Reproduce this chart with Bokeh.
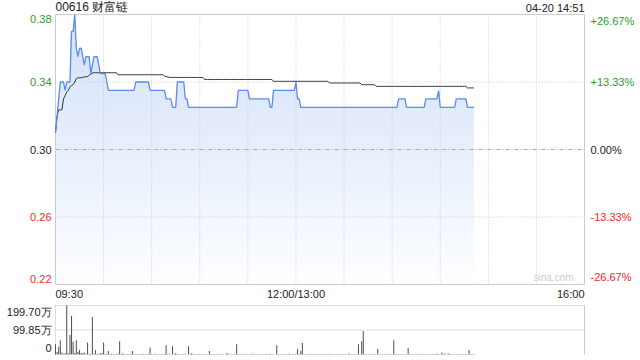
from bokeh.plotting import figure
from bokeh.models import Range1d
from bokeh.core.properties import value
from bokeh.embed import file_html
from bokeh.resources import INLINE

# ---------------- data ----------------
title_text = "00616 财富链"
stamp_text = "04-20 14:51"
prev_close = 0.30

# price per minute from 09:30 (trading minutes, lunch removed)
price = [
    0.31, 0.32, 0.33, 0.34, 0.34, 0.34, 0.335, 0.34, 0.34, 0.34,
    0.37, 0.37, 0.38, 0.36, 0.355, 0.36, 0.36, 0.355, 0.35, 0.355,
    0.355, 0.355, 0.345, 0.35, 0.355, 0.355, 0.355, 0.35, 0.345, 0.345,
    0.345, 0.345, 0.34, 0.335, 0.335, 0.335, 0.335, 0.335, 0.335, 0.335,
    0.335, 0.335, 0.335, 0.335, 0.335, 0.335, 0.335, 0.335, 0.335, 0.335,
    0.34, 0.34, 0.34, 0.34, 0.34, 0.34, 0.34, 0.34, 0.34, 0.335,
    0.335, 0.335, 0.335, 0.335, 0.335, 0.335, 0.335, 0.335, 0.335, 0.33,
    0.33, 0.33, 0.33, 0.325, 0.325, 0.325, 0.34, 0.34, 0.34, 0.34,
    0.34, 0.33, 0.33, 0.325, 0.325, 0.325, 0.325, 0.325, 0.325, 0.325,
    0.325, 0.325, 0.325, 0.325, 0.325, 0.325, 0.325, 0.325, 0.325, 0.325,
    0.325, 0.325, 0.325, 0.325, 0.325, 0.325, 0.325, 0.325, 0.325, 0.325,
    0.325, 0.325, 0.325, 0.325, 0.335, 0.335, 0.335, 0.335, 0.335, 0.335,
    0.335, 0.33, 0.33, 0.33, 0.33, 0.33, 0.33, 0.33, 0.33, 0.33,
    0.33, 0.33, 0.33, 0.33, 0.325, 0.325, 0.335, 0.335, 0.335, 0.335,
    0.335, 0.335, 0.335, 0.335, 0.335, 0.335, 0.335, 0.335, 0.335, 0.335,
    0.34, 0.33, 0.33, 0.325, 0.325, 0.325, 0.325, 0.325, 0.325, 0.325,
    0.325, 0.325, 0.325, 0.325, 0.325, 0.325, 0.325, 0.325, 0.325, 0.325,
    0.325, 0.325, 0.325, 0.325, 0.325, 0.325, 0.325, 0.325, 0.325, 0.325,
    0.325, 0.325, 0.325, 0.325, 0.325, 0.325, 0.325, 0.325, 0.325, 0.325,
    0.325, 0.325, 0.325, 0.325, 0.325, 0.325, 0.325, 0.325, 0.325, 0.325,
    0.325, 0.325, 0.325, 0.325, 0.325, 0.325, 0.325, 0.325, 0.325, 0.325,
    0.325, 0.325, 0.325, 0.325, 0.33, 0.33, 0.33, 0.33, 0.33, 0.325,
    0.325, 0.325, 0.325, 0.325, 0.325, 0.325, 0.325, 0.325, 0.325, 0.325,
    0.325, 0.33, 0.33, 0.33, 0.33, 0.33, 0.33, 0.33, 0.33, 0.335,
    0.325, 0.325, 0.325, 0.325, 0.325, 0.325, 0.325, 0.325, 0.325, 0.325,
    0.33, 0.33, 0.33, 0.33, 0.33, 0.33, 0.33, 0.325, 0.325, 0.325,
    0.325, 0.325,
]

avg_price = [
    0.31, 0.32, 0.3235, 0.3235, 0.3235, 0.33, 0.332, 0.334, 0.335, 0.337,
    0.338, 0.3385, 0.34, 0.342, 0.3425, 0.3425, 0.3425, 0.3427, 0.343, 0.3432,
    0.3432, 0.344, 0.3447, 0.3453, 0.3455, 0.3455, 0.3455, 0.3455, 0.3455, 0.3455,
    0.3455, 0.3455, 0.3455, 0.3455, 0.3455, 0.3455, 0.3455, 0.3455, 0.3455, 0.3443,
    0.3443, 0.3443, 0.3443, 0.3443, 0.3443, 0.3443, 0.3443, 0.3443, 0.3443, 0.3443,
    0.3443, 0.3443, 0.3443, 0.3443, 0.3443, 0.3443, 0.3443, 0.3443, 0.3443, 0.3443,
    0.3443, 0.3443, 0.3443, 0.3443, 0.3443, 0.3443, 0.3443, 0.3443, 0.3435, 0.3432,
    0.343, 0.3428, 0.3427, 0.3427, 0.3427, 0.3427, 0.3427, 0.3427, 0.3427, 0.3427,
    0.3427, 0.3427, 0.3427, 0.3427, 0.3427, 0.3427, 0.3427, 0.3427, 0.3427, 0.3427,
    0.3427, 0.3427, 0.3427, 0.3415, 0.3415, 0.3415, 0.3415, 0.3415, 0.3415, 0.3415,
    0.3415, 0.3415, 0.3415, 0.3415, 0.3415, 0.3415, 0.3415, 0.3415, 0.3415, 0.3415,
    0.3415, 0.3415, 0.3415, 0.3415, 0.3415, 0.3415, 0.3415, 0.3415, 0.3415, 0.3415,
    0.3415, 0.3415, 0.3415, 0.3415, 0.3415, 0.3415, 0.3415, 0.3415, 0.3415, 0.3415,
    0.3415, 0.3415, 0.3415, 0.3415, 0.3415, 0.3415, 0.3404, 0.3404, 0.3404, 0.3404,
    0.3404, 0.3404, 0.3404, 0.3404, 0.3404, 0.3404, 0.3404, 0.3404, 0.3404, 0.3404,
    0.3404, 0.3404, 0.3404, 0.3404, 0.3404, 0.3404, 0.3404, 0.3404, 0.3404, 0.3404,
    0.3404, 0.3404, 0.3404, 0.3404, 0.3404, 0.3404, 0.3404, 0.3404, 0.3404, 0.3404,
    0.3404, 0.3394, 0.3394, 0.3394, 0.3394, 0.3394, 0.3394, 0.3394, 0.3394, 0.3394,
    0.3394, 0.3394, 0.3394, 0.3394, 0.3394, 0.3394, 0.3394, 0.3394, 0.3394, 0.3394,
    0.3394, 0.3384, 0.3384, 0.3384, 0.3384, 0.3384, 0.3384, 0.3384, 0.3384, 0.3384,
    0.3374, 0.3374, 0.3374, 0.3374, 0.3374, 0.3374, 0.3374, 0.3374, 0.3374, 0.3374,
    0.3374, 0.3374, 0.3374, 0.3374, 0.3374, 0.3374, 0.3374, 0.3374, 0.3374, 0.3374,
    0.3374, 0.3374, 0.3374, 0.3374, 0.3374, 0.3374, 0.3374, 0.3374, 0.3374, 0.3374,
    0.3374, 0.3374, 0.3374, 0.3374, 0.3374, 0.3374, 0.3374, 0.3374, 0.3374, 0.3374,
    0.3374, 0.3374, 0.3374, 0.3374, 0.3374, 0.3374, 0.3374, 0.3374, 0.3374, 0.3374,
    0.3374, 0.3374, 0.3374, 0.3374, 0.3374, 0.3374, 0.3374, 0.3365, 0.3365, 0.3365,
    0.3365, 0.3365,
]

# volume per minute, in 万 shares
volume = [
    42, 10, 31, 58, 8, 3, 5, 199.7, 5, 79,
    157, 52, 6, 58, 10, 18, 6, 5, 8, 3,
    49, 3, 2, 153, 4, 18, 2, 3, 5, 6,
    49, 2, 3, 14, 2, 3, 2, 1, 2, 3,
    54, 2, 5, 2, 1, 2, 2, 3, 14, 2,
    1, 2, 2, 1, 3, 2, 1, 2, 2, 29,
    2, 1, 3, 2, 1, 2, 2, 1, 2, 38,
    2, 3, 1, 34, 2, 5, 2, 1, 2, 1,
    2, 3, 1, 34, 2, 5, 1, 2, 1, 2,
    2, 1, 2, 1, 2, 1, 14, 2, 1, 2,
    1, 2, 1, 2, 1, 2, 1, 6, 2, 1,
    2, 1, 2, 42, 2, 1, 2, 1, 2, 1,
    2, 1, 2, 3, 1, 2, 1, 2, 1, 2,
    1, 2, 1, 2, 3, 1, 2, 1, 38, 2,
    1, 2, 1, 2, 1, 2, 3, 1, 2, 1,
    3, 22, 2, 14, 47, 2, 1, 2, 1, 2,
    1, 2, 1, 2, 1, 2, 1, 2, 1, 2,
    1, 2, 1, 2, 1, 2, 1, 2, 1, 2,
    1, 2, 1, 5, 1, 2, 1, 2, 1, 42,
    2, 54, 96, 2, 1, 2, 1, 2, 1, 2,
    1, 22, 1, 2, 1, 2, 1, 2, 1, 2,
    1, 58, 2, 1, 2, 1, 2, 1, 2, 1,
    27, 2, 1, 2, 1, 2, 1, 2, 1, 2,
    1, 2, 1, 2, 1, 2, 1, 2, 3, 2,
    1, 8, 2, 4, 1, 5, 2, 1, 2, 1,
    2, 1, 2, 1, 2, 1, 2, 1, 18, 2,
    1, 2,
]
minutes = list(range(len(price)))

price_ticks = [0.38, 0.34, 0.30, 0.26, 0.22]
price_tick_labels = ["0.38", "0.34", "0.30", "0.26", "0.22"]
pct_tick_labels = ["+26.67%", "+13.33%", "0.00%", "-13.33%", "-26.67%"]
time_ticks = [0, 150, 330]
time_tick_labels = ["09:30", "12:00/13:00", "16:00"]
time_grid = [30, 60, 90, 120, 150, 180, 210, 240, 270, 300]
vol_ticks = [199.7, 99.85, 0]
vol_tick_labels = ["199.70万", "99.85万", "0"]

# ---------------- layout (pixels) ----------------
W, H = 640, 360
X0_PX, X1_PX = 55.0, 584.0
Y_TOP_PX, Y_BOT_PX = 14.0, 284.0
VOL_TOP_PX, VOL_BOT_PX = 305.0, 354.0
T_END = 330
P_HI, P_LO = max(price_ticks), min(price_ticks)
V_HI = max(vol_ticks)

ppm = (X1_PX - X0_PX) / T_END
ppu = (Y_BOT_PX - Y_TOP_PX) / (P_HI - P_LO)
vpu = (VOL_BOT_PX - VOL_TOP_PX) / V_HI

p = figure(width=W, height=H, output_backend="svg", toolbar_location=None,
           x_axis_type=None, y_axis_type=None,
           x_range=Range1d(-X0_PX / ppm, T_END + (W - X1_PX) / ppm),
           y_range=Range1d(P_LO - (H - Y_BOT_PX) / ppu, P_HI + Y_TOP_PX / ppu),
           min_border=0, outline_line_color=None,
           background_fill_color="white", border_fill_color="white")
p.extra_y_ranges = {"vol": Range1d(0 - (H - VOL_BOT_PX) / vpu, V_HI + VOL_TOP_PX / vpu)}
p.grid.visible = False

FONT = value("Liberation Sans")
GREEN, RED, BLACK = "#1ea21e", "#f02828", "#222222"

# gradient fill under the price line (stacked bands)
N = 40
top_c, bot_c = (210, 224, 249), (253, 254, 255)
for k in range(N):
    b = P_LO + (P_HI - P_LO) * k / N
    t = (k + 0.5) / N
    c = tuple(int(round(bot_c[i] + (top_c[i] - bot_c[i]) * t)) for i in range(3))
    p.varea(x=minutes, y1=[b] * len(price), y2=[max(v, b) for v in price],
            fill_color="#%02x%02x%02x" % c, fill_alpha=1.0)

# grid lines
p.segment(x0=time_grid, x1=time_grid, y0=[P_LO] * len(time_grid), y1=[P_HI] * len(time_grid),
          line_color="#c8c8c8", line_width=1, line_dash="1 2")
mid_ticks = [v for v in price_ticks if v not in (P_HI, P_LO, prev_close)]
p.segment(x0=[0] * len(mid_ticks), x1=[T_END] * len(mid_ticks), y0=mid_ticks, y1=mid_ticks,
          line_color="#c8c8c8", line_width=1, line_dash="1 2")
p.segment(x0=[0], x1=[T_END], y0=[prev_close], y1=[prev_close],
          line_color="#aaaaaa", line_width=1, line_dash="4 2 1 2")

# frame of the price panel
p.quad(left=[0], right=[T_END], bottom=[P_LO], top=[P_HI], fill_color=None,
       line_color="#cccccc", line_width=1)

# lines
p.line(minutes, avg_price, line_color="#333333", line_width=1)
p.line(minutes, price, line_color="#5a8cf0", line_width=1.3)

# volume panel
vol_grid = [v for v in vol_ticks if v > 0]
p.segment(x0=[0] * len(vol_grid), x1=[T_END] * len(vol_grid), y0=vol_grid, y1=vol_grid,
          line_color="#bbbbbb", line_width=1, line_dash="1 1", y_range_name="vol")
p.segment(x0=[0], x1=[0], y0=[0], y1=[V_HI], line_color="#bbbbbb", line_width=1,
          line_dash="1 1", y_range_name="vol")
p.segment(x0=[T_END], x1=[T_END], y0=[0], y1=[V_HI], line_color="#cccccc", line_width=1,
          y_range_name="vol")
p.vbar(x=minutes, top=volume, bottom=0, width=0.65, fill_color="#555555",
       line_color=None, y_range_name="vol")

# price tick labels (left) and percent labels (right)
for v, lab, plab in zip(price_ticks, price_tick_labels, pct_tick_labels):
    col = GREEN if v > prev_close else (RED if v < prev_close else BLACK)
    base = "top" if v == P_HI else ("bottom" if v == P_LO else "middle")
    dy = -2 if v == P_LO else 0
    p.text(x=[0], y=[v], text=[lab], x_offset=-4, y_offset=dy, text_align="right", text_baseline=base,
           text_font=FONT, text_font_size="11px", text_color=col)
    p.text(x=[T_END], y=[v], text=[plab], x_offset=6, y_offset=dy, text_align="left", text_baseline=base,
           text_font=FONT, text_font_size="11px", text_color=col)

# time labels
for t, lab in zip(time_ticks, time_tick_labels):
    al = "left" if t == 0 else ("right" if t == T_END else "center")
    p.text(x=[t], y=[P_LO], text=[lab], y_offset=3, text_align=al, text_baseline="top",
           text_font=FONT, text_font_size="11px", text_color=BLACK)

# volume labels
for v, lab in zip(vol_ticks, vol_tick_labels):
    base = "top" if v == V_HI else ("bottom" if v == 0 else "middle")
    dy = -3 if v == 0 else 0
    p.text(x=[0], y=[v], text=[lab], x_offset=-4, y_offset=dy, text_align="right", text_baseline=base,
           text_font=FONT, text_font_size="11px", text_color=BLACK, y_range_name="vol")

# title and timestamp
p.text(x=[0], y=[P_HI], text=[title_text], y_offset=-1, text_align="left", text_baseline="bottom",
       text_font=FONT, text_font_size="12px", text_color=BLACK)
p.text(x=[T_END], y=[P_HI], text=[stamp_text], y_offset=-1, text_align="right", text_baseline="bottom",
       text_font=FONT, text_font_size="11px", text_color=BLACK)
# watermark
p.text(x=[T_END], y=[P_LO], text=["sina.com"], x_offset=-11, y_offset=-2, text_align="right",
       text_baseline="bottom", text_font=FONT, text_font_size="10px", text_color="#cccccc")

open("out.html", "w").write(file_html(p, INLINE))
